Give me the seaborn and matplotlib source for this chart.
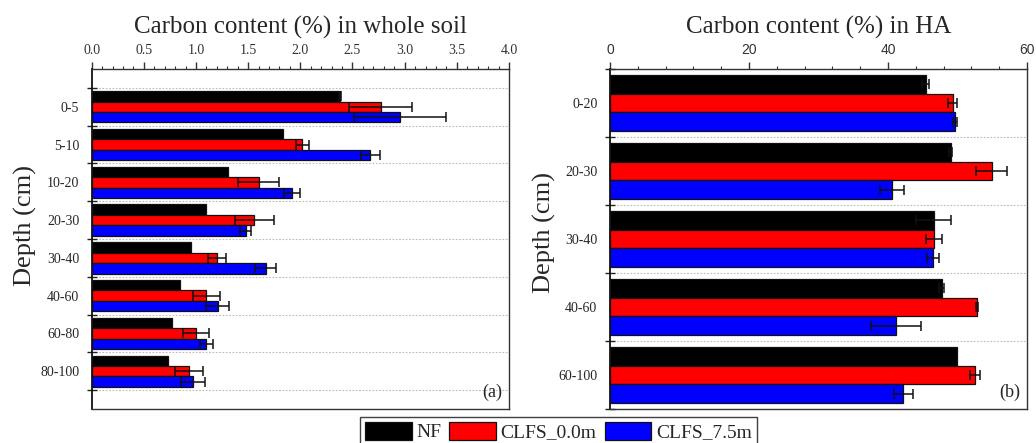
import numpy as np
import pandas as pd
import matplotlib
matplotlib.use("Agg")
import matplotlib.pyplot as plt
import seaborn as sns
from matplotlib.patches import Patch
from matplotlib.ticker import MultipleLocator, FormatStrFormatter

# Data
treatments = ["NF", "CLFS_0.0m", "CLFS_7.5m"]
colors = ["#000000", "#ff0000", "#0000ff"]

soil_depths = ["0-5", "5-10", "10-20", "20-30", "30-40", "40-60", "60-80", "80-100"]
soil_nf = [2.38, 1.83, 1.31, 1.10, 0.95, 0.85, 0.77, 0.735]
soil_c0 = [2.77, 2.02, 1.60, 1.56, 1.20, 1.10, 1.00, 0.93]
soil_c75 = [2.955, 2.67, 1.92, 1.476, 1.67, 1.21, 1.10, 0.975]
soil_nf_err = [0.01, 0.0, 0.0, 0.0, 0.0, 0.0, 0.0, 0.0]
soil_c0_err = [0.30, 0.065, 0.20, 0.185, 0.085, 0.13, 0.125, 0.135]
soil_c75_err = [0.44, 0.09, 0.08, 0.05, 0.10, 0.11, 0.06, 0.115]

ha_depths = ["0-20", "20-30", "30-40", "40-60", "60-100"]
ha_nf = [45.4, 49.0, 46.6, 47.7, 50.0]
ha_c0 = [49.3, 54.9, 46.6, 52.8, 52.5]
ha_c75 = [49.7, 40.6, 46.5, 41.2, 42.2]
ha_nf_err = [0.5, 0.2, 2.5, 0.4, 0.0]
ha_c0_err = [0.6, 2.2, 1.2, 0.2, 0.7]
ha_c75_err = [0.3, 1.75, 0.9, 3.6, 1.4]


def make_df(depths, vals, errs):
    rows = []
    for t, v, e in zip(treatments, vals, errs):
        for d, vv, ee in zip(depths, v, e):
            rows.append({"depth": d, "treatment": t, "value": vv, "err": ee})
    return pd.DataFrame(rows)


soil_df = make_df(soil_depths, [soil_nf, soil_c0, soil_c75],
                  [soil_nf_err, soil_c0_err, soil_c75_err])
ha_df = make_df(ha_depths, [ha_nf, ha_c0, ha_c75],
                [ha_nf_err, ha_c0_err, ha_c75_err])

sns.set_style("white")
plt.rcParams["font.family"] = ["Liberation Serif", "DejaVu Serif"]
plt.rcParams["axes.edgecolor"] = "#333333"

fig = plt.figure(figsize=(10.36, 4.43), dpi=100)
ax1 = fig.add_axes([0.0885, 0.0767, 0.4028, 0.7675])
ax2 = fig.add_axes([0.5888, 0.0767, 0.4025, 0.7675])


def draw_panel(ax, df, depths, title, xmax, major, minor, letter, tick_family, label_y):
    sns.barplot(data=df, y="depth", x="value", hue="treatment", order=depths,
                hue_order=treatments, palette=colors, saturation=1, orient="h",
                width=0.83, edgecolor="#111111", linewidth=0.9, errorbar=None,
                legend=False, ax=ax)
    bar_groups = list(ax.containers)
    # error bars at the bar ends
    for hi, cont in enumerate(bar_groups):
        sub = df[df["treatment"] == treatments[hi]].set_index("depth")
        for bar in cont:
            yc = bar.get_y() + bar.get_height() / 2
            d = depths[int(round(yc))]
            e = sub.loc[d, "err"]
            if e > 0:
                ax.errorbar(bar.get_width(), yc, xerr=e, fmt="none", ecolor="#111111",
                            elinewidth=1.1, capsize=3.5, capthick=1.1, zorder=5)
    n = len(depths)
    ax.set_xlim(0, xmax)
    ax.xaxis.set_major_locator(MultipleLocator(major))
    ax.xaxis.set_minor_locator(MultipleLocator(minor))
    ax.xaxis.set_ticks_position("top")
    ax.tick_params(axis="x", which="major", direction="out", length=5, width=1,
                   pad=4, labelsize=10, colors="#333333")
    ax.tick_params(axis="x", which="minor", direction="out", length=2.5, width=0.8,
                   colors="#333333")
    for lab in ax.get_xticklabels():
        lab.set_family(tick_family)
    ax.set_yticks(np.arange(-0.5, n + 0.5, 1.0), minor=True)
    ax.tick_params(axis="y", which="major", length=0, pad=9, labelsize=10)
    ax.tick_params(axis="y", which="minor", left=True, direction="inout", length=7,
                   width=1, colors="#222222")
    ax.grid(True, axis="y", which="minor", color="#bbbbbb", linestyle=(0, (1.5, 1.5)),
            linewidth=0.8)
    ax.grid(False, axis="x")
    ax.set_axisbelow(True)
    ax.set_xlabel("")
    ax.set_ylabel("Depth (cm)", fontsize=19)
    ax.yaxis.set_label_coords(-0.13, label_y)
    ax.set_title(title, fontsize=18, y=1.105, pad=0)
    ax.text(0.985, 0.025, letter, transform=ax.transAxes, ha="right", va="bottom",
            fontsize=13)
    for sp in ax.spines.values():
        sp.set_visible(True)
        sp.set_linewidth(1.0)
    ax.spines["left"].set_color("#111111")
    ax.spines["left"].set_linewidth(1.3)


draw_panel(ax1, soil_df, soil_depths, "Carbon content (%) in whole soil", 4.0, 0.5, 0.1,
           "(a)", ["Liberation Serif"], 0.54)
ax1.set_ylim(len(soil_depths), -1.0)
ax1.xaxis.set_major_formatter(FormatStrFormatter("%.1f"))

draw_panel(ax2, ha_df, ha_depths, "Carbon content (%) in HA", 60, 20, 4,
           "(b)", ["Liberation Sans"], 0.52)
ax2.set_ylim(len(ha_depths) - 0.5, -0.5)

handles = [Patch(facecolor=c, edgecolor="#111111", linewidth=0.9) for c in colors]
fig.legend(handles, treatments, loc="upper center", bbox_to_anchor=(0.539, 0.059),
           ncol=3, fontsize=14, frameon=True, fancybox=False, edgecolor="#111111",
           handlelength=2.4, handleheight=1.05, handletextpad=0.25, columnspacing=0.4,
           borderpad=0.25, borderaxespad=0.0)

fig.savefig("out.png", dpi=100)
